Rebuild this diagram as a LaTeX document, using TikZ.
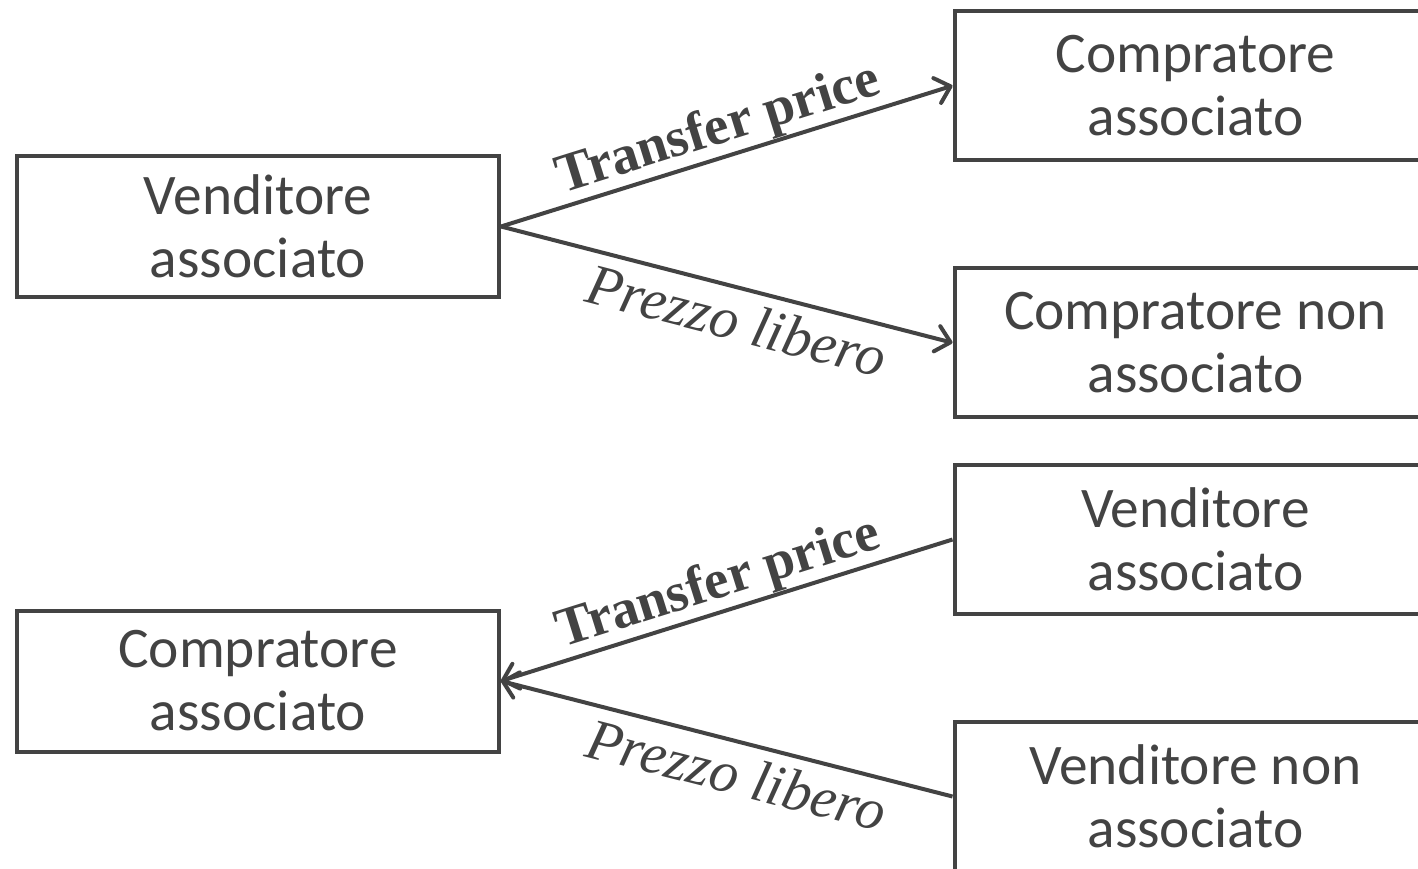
\documentclass[tikz,border=0pt]{standalone}
\usepackage{fontspec}
\setmainfont{Carlito}
\newfontfamily\labserif{Liberation Serif}
\usetikzlibrary{arrows.meta}
\definecolor{fg}{HTML}{434343}
\newcommand\labbold{\labserif\bfseries\fontsize{27.5}{30}\selectfont}
\newcommand\labital{\labserif\itshape\fontsize{29}{30}\selectfont}
\begin{document}
\begin{tikzpicture}[x=0.5pt,y=-0.5pt,
  box/.style={draw=fg, line width=2pt, minimum width=241pt, align=center,
    text=fg, inner sep=0pt, font=\fontsize{28.7}{31.5}\selectfont},
  lbox/.style={box, minimum height=70.5pt},
  rbox/.style={box, minimum height=74.5pt},
  arr/.style={draw=fg, line width=2pt, -{Straight Barb[length=7pt,width=13pt,round]}},
  tlab/.style={text=fg, font=\labbold, inner sep=0pt, sloped, above},
  plab/.style={text=fg, font=\labital, inner sep=5pt, sloped, below}]
\useasboundingbox (0,0) rectangle (1418,868);
\node[lbox] (l1) at (258,226.5) {Venditore\\associato};
\node[lbox] (l2) at (258,681) {Compratore\\associato};
\node[rbox] (r1) at (1195.5,85.75) {Compratore\\associato};
\node[rbox] (r2) at (1195.5,342.75) {Compratore non\\associato};
\node[rbox] (r3) at (1195.5,539.5) {Venditore\\associato};
\node[rbox] (r4) at (1195.5,796.5) {Venditore non\\associato};
\draw[arr] (l1.east) -- node[tlab, pos=0.5] {Transfer price} (r1.west);
\draw[arr] (l1.east) -- node[plab, pos=0.54] {Prezzo libero} (r2.west);
\draw[arr] (r3.west) -- node[tlab, pos=0.5] {Transfer price} (l2.east);
\draw[arr] (r4.west) -- node[plab, pos=0.46] {Prezzo libero} (l2.east);
\end{tikzpicture}
\end{document}
